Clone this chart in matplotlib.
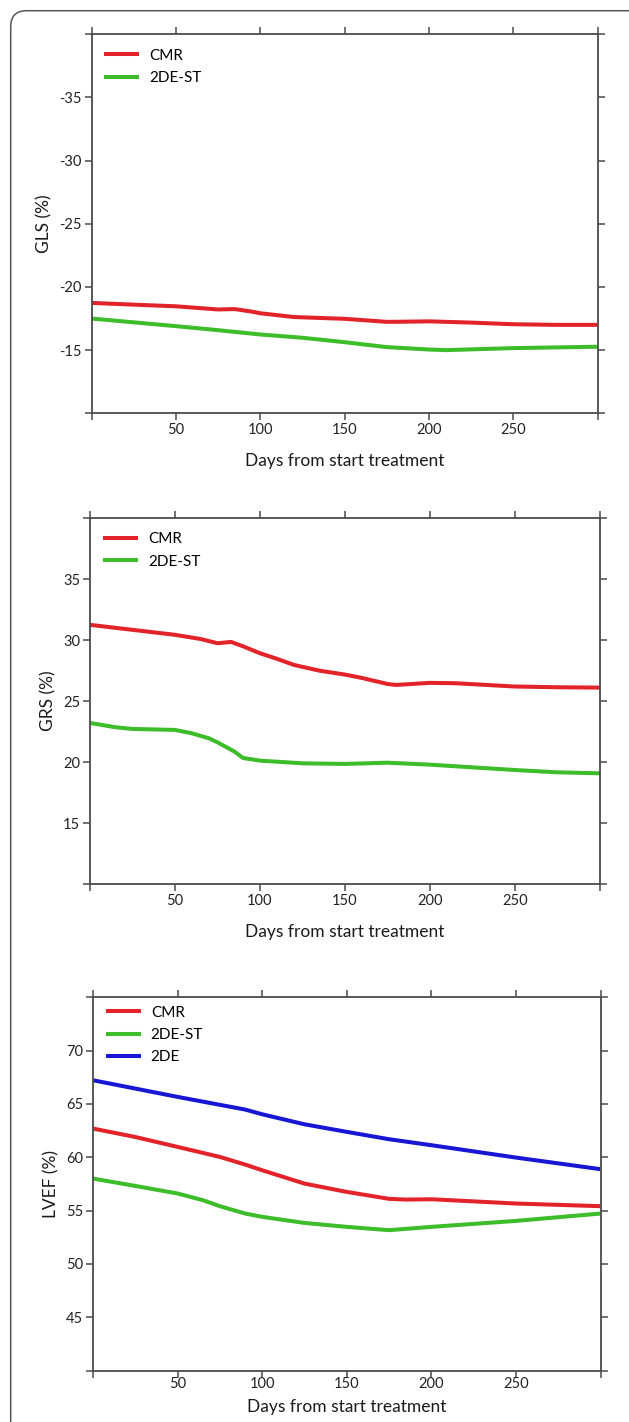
import matplotlib
matplotlib.use('Agg')
import matplotlib.pyplot as plt
from matplotlib.patches import FancyBboxPatch

plt.rcParams['font.family'] = ['Lato', 'DejaVu Sans']

# 数据：近似值
gls_cmr_days = [0, 25, 50, 75, 85, 95, 100, 120, 150, 175, 185, 200, 225, 250, 275, 300]
gls_cmr = [-18.74, -18.6, -18.47, -18.22, -18.25, -18.05, -17.92, -17.62, -17.48,
           -17.24, -17.25, -17.28, -17.18, -17.05, -17.0, -17.0]
gls_st_days = [0, 25, 50, 75, 100, 125, 150, 175, 200, 210, 250, 300]
gls_st = [-17.5, -17.2, -16.9, -16.58, -16.24, -15.98, -15.63, -15.24, -15.05, -15.0, -15.16, -15.27]

grs_cmr_days = [0, 25, 50, 65, 75, 83, 90, 100, 110, 120, 135, 150, 160, 175, 180,
                200, 215, 250, 275, 300]
grs_cmr = [31.26, 30.85, 30.44, 30.1, 29.75, 29.86, 29.5, 28.93, 28.47, 27.97, 27.5,
           27.18, 26.9, 26.41, 26.33, 26.5, 26.47, 26.2, 26.14, 26.11]
grs_st_days = [0, 15, 25, 50, 60, 70, 75, 85, 90, 100, 125, 150, 175, 200, 225, 250, 275, 300]
grs_st = [23.21, 22.86, 22.72, 22.64, 22.36, 21.95, 21.62, 20.86, 20.34, 20.12, 19.9,
          19.85, 19.95, 19.79, 19.57, 19.35, 19.16, 19.08]

lvef_cmr_days = [0, 25, 50, 75, 90, 100, 125, 150, 175, 185, 200, 250, 300]
lvef_cmr = [62.69, 61.9, 60.97, 60.03, 59.31, 58.78, 57.53, 56.75, 56.1, 56.03, 56.06, 55.66, 55.41]
lvef_st_days = [0, 25, 50, 65, 75, 90, 100, 125, 150, 175, 200, 250, 300]
lvef_st = [58.0, 57.31, 56.6, 55.97, 55.41, 54.72, 54.41, 53.84, 53.47, 53.16, 53.47, 54.03, 54.72]
lvef_2de_days = [0, 25, 50, 90, 100, 125, 150, 175, 200, 250, 300]
lvef_2de = [67.22, 66.44, 65.66, 64.47, 64.03, 63.09, 62.38, 61.69, 61.13, 59.97, 58.88]

x_ticks = [0, 50, 100, 150, 200, 250, 300]
x_labels = ['', '50', '100', '150', '200', '250', '']

RED = '#e2232a'
GREEN = '#3cbd29'
BLUE = '#1616d4'
AX_COLOR = '#4a4a4a'

W, H = 629, 1422
fig = plt.figure(figsize=(W / 100, H / 100), dpi=100)

# 外框（只露出上边和左边），用英寸坐标画
frame = FancyBboxPatch((10.7 / 100, -0.5), (660 - 10.7) / 100, (H - 10.7) / 100 + 0.5,
                       boxstyle='round,pad=0,rounding_size=0.16',
                       transform=fig.dpi_scale_trans, fill=False,
                       edgecolor='#555555', linewidth=1.1)
fig.patches.append(frame)


def px_axes(left, right, top, bottom):
    return fig.add_axes([left / W, 1 - bottom / H, (right - left) / W, (bottom - top) / H])


def style(ax, ylim, yticks, ylabel, xpad, xlabpad, legend_top):
    ax.set_xlim(0, 300)
    ax.set_ylim(*ylim)
    lo, hi = min(ylim), max(ylim)
    ax.set_xticks(x_ticks)
    ax.set_xticklabels(x_labels)
    ax.set_yticks([lo] + yticks + [hi])
    ax.set_yticklabels([''] + [str(t) for t in yticks] + [''])
    for s in ax.spines.values():
        s.set_color(AX_COLOR)
        s.set_linewidth(1.3)
    ax.tick_params(direction='out', length=5, width=1.1, color=AX_COLOR,
                   top=True, right=True, labelsize=10.5, labelcolor='#222222')
    ax.tick_params(axis='x', pad=xpad)
    ax.tick_params(axis='y', pad=2)
    ax.set_xlabel('Days from start treatment', fontsize=12.5, color='#1a1a1a', labelpad=xlabpad)
    ax.set_ylabel(ylabel, fontsize=12.5, color='#1a1a1a', labelpad=5)
    ax.legend(loc='upper left', bbox_to_anchor=(0.025, legend_top), frameon=False,
              fontsize=11, handlelength=2.3, handletextpad=0.65, labelspacing=0.55,
              borderpad=0, borderaxespad=0)


lw = 2.9

ax1 = px_axes(91.5, 597.5, 34.3, 413.3)
ax1.plot(gls_cmr_days, gls_cmr, color=RED, lw=lw, label='CMR', solid_capstyle='butt')
ax1.plot(gls_st_days, gls_st, color=GREEN, lw=lw, label='2DE-ST', solid_capstyle='butt')
style(ax1, (-10, -40), [-35, -30, -25, -20, -15], 'GLS (%)', 2, 11.5, 0.962)

ax2 = px_axes(90, 600, 518.3, 884)
ax2.plot(grs_cmr_days, grs_cmr, color=RED, lw=lw, label='CMR', solid_capstyle='butt')
ax2.plot(grs_st_days, grs_st, color=GREEN, lw=lw, label='2DE-ST', solid_capstyle='butt')
style(ax2, (10, 40), [15, 20, 25, 30, 35], 'GRS (%)', 2, 11.5, 0.962)

ax3 = px_axes(93, 600.5, 997.3, 1370.5)
ax3.plot(lvef_cmr_days, lvef_cmr, color=RED, lw=lw, label='CMR', solid_capstyle='butt')
ax3.plot(lvef_st_days, lvef_st, color=GREEN, lw=lw, label='2DE-ST', solid_capstyle='butt')
ax3.plot(lvef_2de_days, lvef_2de, color=BLUE, lw=lw, label='2DE', solid_capstyle='butt')
style(ax3, (40, 75), [45, 50, 55, 60, 65, 70], 'LVEF (%)', 0, 5.5, 0.978)

fig.savefig('out.png', dpi=100)
